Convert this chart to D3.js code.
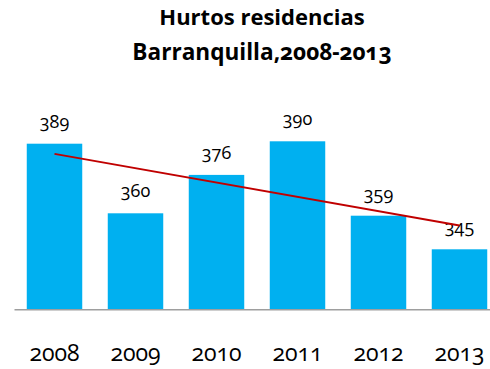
<!DOCTYPE html>
<html>
<head>
<meta charset="utf-8">
<script src="https://cdn.jsdelivr.net/npm/d3@7"></script>
<style>
  html, body { margin: 0; padding: 0; background: #fff; }
  svg { display: block; }
  text { font-family: "Open Sans", Lato, sans-serif; }
  .num { font-variant-numeric: oldstyle-nums; font-feature-settings: "onum" 1; }
</style>
</head>
<body>
<svg id="chart" width="490" height="369"></svg>
<script>
// Hurtos a residencias en Barranquilla por año
const years = ["2008", "2009", "2010", "2011", "2012", "2013"];
const hurtos = [389, 360, 376, 390, 359, 345];
const titleLines = ["Hurtos residencias", "Barranquilla,2008-2013"];

const W = 490, H = 369;
const svg = d3.select("#chart");

const x = d3.scaleBand()
  .domain(years)
  .range([14, 500])
  .paddingInner(0.315)
  .paddingOuter(0.1575);

const y = d3.scaleLinear()
  .domain([320, 400])
  .range([309.3, 117.3]);

// Título
svg.append("g")
  .selectAll("text")
  .data(titleLines)
  .join("text")
  .attr("class", "num")
  .attr("x", 262)
  .attr("y", (d, i) => 25 + i * 35)
  .attr("text-anchor", "middle")
  .attr("font-size", (d, i) => i === 0 ? 22 : 22.6)
  .attr("font-weight", "bold")
  .attr("fill", "#000")
  .text(d => d);

// Barras
svg.append("g")
  .selectAll("rect")
  .data(hurtos)
  .join("rect")
  .attr("x", (d, i) => x(years[i]))
  .attr("width", x.bandwidth())
  .attr("y", d => y(d))
  .attr("height", d => y(320) - y(d))
  .attr("fill", "#00B0F0");

// Etiquetas de valor
svg.append("g")
  .selectAll("text")
  .data(hurtos)
  .join("text")
  .attr("class", "num")
  .attr("x", (d, i) => x(years[i]) + x.bandwidth() / 2)
  .attr("y", d => y(d) - 16)
  .attr("text-anchor", "middle")
  .attr("font-size", 18)
  .attr("fill", "#000")
  .text(d => d);

// Eje horizontal
const axis = svg.append("g")
  .attr("transform", `translate(0,${y(320)})`)
  .call(d3.axisBottom(x).tickSize(0).tickPadding(0));
axis.select(".domain")
  .attr("stroke", "#9e9e9e")
  .attr("stroke-width", 1.6);
axis.selectAll(".tick text")
  .attr("class", "num")
  .attr("y", 52)
  .attr("dy", 0)
  .attr("font-size", 23)
  .attr("font-family", "'Open Sans', Lato, sans-serif")
  .attr("fill", "#000");

// Línea de tendencia lineal (mínimos cuadrados)
const n = hurtos.length;
const idx = d3.range(n);
const mx = d3.mean(idx), my = d3.mean(hurtos);
const slope = d3.sum(idx, i => (i - mx) * (hurtos[i] - my)) / d3.sum(idx, i => (i - mx) ** 2);
const icpt = my - slope * mx;
const trend = [0, n - 1].map(i => [x(years[i]) + x.bandwidth() / 2, y(icpt + slope * i)]);

svg.append("path")
  .attr("d", d3.line()(trend))
  .attr("fill", "none")
  .attr("stroke", "#C00000")
  .attr("stroke-width", 2);
</script>
</body>
</html>
